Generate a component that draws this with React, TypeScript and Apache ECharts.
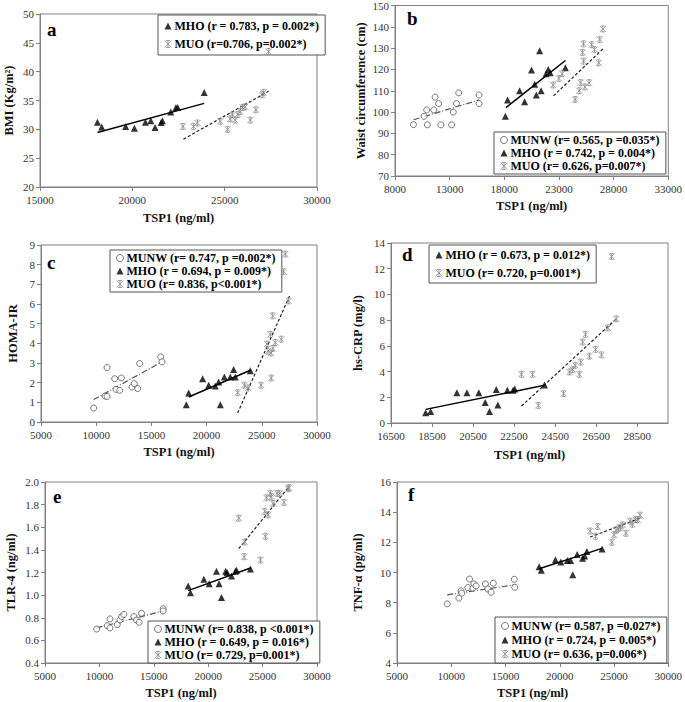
import React, { useEffect, useRef } from 'react';
import * as echarts from 'echarts';

type P = [number, number];

// ---- Panel a : BMI ----
const A_MHO: P[] = [[18110,31.25],[18340,30.4],[19640,30.5],[20110,30.2],[20710,31.25],[21000,31.5],[21230,30.3],[21560,31.2],[21630,31.5],[22080,33.0],[22360,33.8],[22460,33.8],[23890,36.4]];
const A_MHO_FIT: P[] = [[18110,29.46],[23890,34.5]];
const A_MUO: P[] = [[22740,30.5],[23310,30.5],[23530,31.1],[24760,31.4],[25160,30.0],[25300,31.8],[25430,32.5],[25570,31.6],[25720,32.6],[25840,33.1],[25970,33.8],[26110,33.9],[26390,31.6],[26690,33.4],[27020,36.0],[27110,36.4],[27380,43.5]];
const A_MUO_FIT: P[] = [[22770,28.3],[27380,36.6]];

// ---- Panel b : Waist circumference ----
const B_MUNW: P[] = [[9690,94.1],[10660,98],[10900,101],[10960,94],[11550,101],[11670,107],[11990,104],[12200,94],[13180,94],[13330,100],[13620,104],[13830,109],[15690,108],[15690,104]];
const B_MUNW_FIT: P[] = [[9700,96.4],[15700,105.7]];
const B_MHO: P[] = [[18100,98],[18300,105.7],[19400,110],[19860,104.8],[20490,119.7],[20780,113],[20930,108],[21230,128.8],[21370,110],[21820,118],[22020,120],[22200,118.4],[23590,120.8]];
const B_MHO_FIT: P[] = [[18150,102.1],[23590,124.2]];
const B_MUO: P[] = [[22470,112.7],[23000,115.8],[23300,118],[24480,105.9],[24860,110],[25000,113.8],[25250,132],[25160,128],[25250,123.9],[25370,111.8],[25750,113.8],[25990,131.6],[26250,129.3],[26640,123.1],[26730,134],[27020,139]];
const B_MUO_FIT: P[] = [[22500,107.6],[27020,129.6]];

// ---- Panel c : HOMA-IR ----
const C_MUNW: P[] = [[9770,0.71],[10800,1.32],[10980,1.3],[10980,2.77],[11670,2.2],[11790,1.66],[12130,1.61],[12280,2.24],[13240,1.78],[13450,1.95],[13760,1.7],[13940,2.97],[15840,3.31],[15960,3.06]];
const C_MUNW_FIT: P[] = [[9770,1.14],[15960,3.06]];
const C_MHO: P[] = [[18160,0.88],[18380,1.48],[19640,2.2],[20190,1.87],[20790,1.83],[21090,2.04],[21240,0.88],[21610,2.29],[22150,2.29],[22450,2.67],[22600,2.29],[23960,2.6]];
const C_MHO_FIT: P[] = [[18380,1.27],[23960,2.63]];
const C_MUO: P[] = [[22810,1.49],[23420,1.87],[23750,1.73],[24930,1.87],[25470,3.96],[25560,3.6],[25770,4.45],[25830,3.51],[25860,2.24],[26010,3.74],[26220,4.04],[25990,5.4],[26770,4.21],[27130,8.54],[26980,7.64],[27430,6.16]];
const C_MUO_FIT: P[] = [[22810,0.46],[27520,6.42]];

// ---- Panel d : hs-CRP ----
const D_MHO: P[] = [[18190,0.8],[18430,0.9],[19710,2.35],[20200,2.35],[20780,2.35],[21090,1.6],[21300,0.9],[21630,2.6],[21710,1.4],[22170,2.55],[22450,2.55],[22530,2.65],[23980,2.95]];
const D_MHO_FIT: P[] = [[18190,1.06],[23980,2.93]];
const D_MUO: P[] = [[22860,3.79],[23400,3.79],[23680,1.37],[24910,2.28],[25200,3.97],[25350,4.15],[25480,4.49],[25680,3.79],[25750,4.74],[25840,6.3],[25980,6.9],[26170,5.2],[26470,5.73],[26760,5.3],[27070,7.4],[27480,8.1],[27250,12.96]];
const D_MUO_FIT: P[] = [[22860,1.32],[27480,8.1]];

// ---- Panel e : TLR-4 ----
const E_MUNW: P[] = [[9740,0.7],[10720,0.73],[10970,0.79],[10970,0.71],[11640,0.74],[11890,0.78],[12040,0.81],[12250,0.83],[13170,0.81],[13410,0.78],[13660,0.76],[13870,0.84],[15860,0.88],[15860,0.86]];
const E_MUNW_FIT: P[] = [[9740,0.71],[15860,0.86]];
const E_MHO: P[] = [[18160,1.08],[18370,1.02],[19600,1.14],[20090,1.1],[20760,1.21],[21000,1.1],[21220,0.98],[21610,1.21],[21740,1.2],[22140,1.17],[22500,1.21],[22600,1.22],[23880,1.23]];
const E_MHO_FIT: P[] = [[18160,1.04],[23880,1.24]];
const E_MUO: P[] = [[22810,1.68],[23360,1.47],[23300,1.34],[24800,1.31],[25200,1.74],[25260,1.52],[25350,1.86],[25500,1.71],[25710,1.9],[25800,1.87],[25960,1.81],[26330,1.9],[26570,1.9],[26970,1.82],[27340,1.94],[27430,1.95]];
const E_MUO_FIT: P[] = [[22810,1.41],[27430,1.96]];

// ---- Panel f : TNF-alpha ----
const F_MUNW: P[] = [[9630,7.92],[10700,8.3],[10910,8.78],[10970,8.63],[11530,9.0],[11680,9.57],[11990,8.96],[12080,9.24],[12290,9.11],[13150,9.24],[13360,8.91],[13670,8.69],[13880,9.29],[15810,9.55],[15850,9.02]];
const F_MUNW_FIT: P[] = [[9630,8.52],[15810,9.18]];
const F_MHO: P[] = [[18100,10.38],[18300,10.15],[19600,10.85],[20100,10.7],[20700,10.8],[21000,10.8],[21200,9.85],[21600,11.2],[22100,10.95],[22300,11.1],[22500,11.4],[23900,11.55]];
const F_MHO_FIT: P[] = [[18100,10.25],[23900,11.6]];
const F_MUO: P[] = [[22800,12.75],[23300,12.4],[23500,13.05],[24800,12.0],[25000,12.5],[25200,12.8],[25400,12.9],[25600,13.0],[25800,13.15],[26100,12.6],[26500,13.4],[26700,13.2],[27000,13.5],[27200,13.5],[27400,13.8]];
const F_MUO_FIT: P[] = [[22800,12.35],[27400,13.6]];

const FONT = "'Liberation Serif', 'Times New Roman', serif";
const STAR = 'path://M0,0L10,10M10,0L0,10M5,0L5,10M2,0L8,0M2,10L8,10';

type Kind = 'MUNW' | 'MHO' | 'MUO';
interface Group { kind: Kind; label: string; pts: P[]; fit: P[] }
interface Panel {
  letter: string; lx: number; ly: number;
  grid: { left: number; top: number; width: number; height: number };
  x: [number, number, number]; y: [number, number, number];
  yName: string; yGap: number; xGap: number; yDec: number; hideXMax?: boolean;
  legend: { left: number; top: number; itemGap: number; padding: number[] };
  groups: Group[];
}

const panels: Panel[] = [
  { letter: 'a', lx: 52, ly: 30, grid: { left: 40, top: 14, width: 277, height: 173 }, x: [15000, 30000, 5000], y: [20, 50, 5], yName: 'BMI (Kg/m²)', yGap: 25, xGap: 24, yDec: 0,
    legend: { left: 158, top: 15, itemGap: 6, padding: [5, 6, 5, 6] },
    groups: [
      { kind: 'MHO', label: 'MHO (r = 0.783, p = 0.002*)', pts: A_MHO, fit: A_MHO_FIT },
      { kind: 'MUO', label: 'MUO (r=0.706, p=0.002*)', pts: A_MUO, fit: A_MUO_FIT },
    ] },
  { letter: 'b', lx: 412, ly: 19, grid: { left: 395, top: 4, width: 282, height: 172 }, x: [8000, 33000, 5000], y: [70, 150, 10], yName: 'Waist circumference (cm)', yGap: 28, xGap: 23, yDec: 0,
    legend: { left: 494, top: 132, itemGap: 1, padding: [2, 6, 2, 6] },
    groups: [
      { kind: 'MUNW', label: 'MUNW (r= 0.565, p =0.035*)', pts: B_MUNW, fit: B_MUNW_FIT },
      { kind: 'MHO', label: 'MHO (r = 0.742, p = 0.004*)', pts: B_MHO, fit: B_MHO_FIT },
      { kind: 'MUO', label: 'MUO (r= 0.626, p=0.007*)', pts: B_MUO, fit: B_MUO_FIT },
    ] },
  { letter: 'c', lx: 52, ly: 263, grid: { left: 41, top: 245, width: 276, height: 177 }, x: [5000, 30000, 5000], y: [0, 9, 1], yName: 'HOMA-IR', yGap: 22, xGap: 23, yDec: 0,
    legend: { left: 110, top: 250, itemGap: 1, padding: [2, 6, 2, 6] },
    groups: [
      { kind: 'MUNW', label: 'MUNW (r= 0.747, p =0.002*)', pts: C_MUNW, fit: C_MUNW_FIT },
      { kind: 'MHO', label: 'MHO (r = 0.694, p = 0.009*)', pts: C_MHO, fit: C_MHO_FIT },
      { kind: 'MUO', label: 'MUO (r= 0.836, p<0.001*)', pts: C_MUO, fit: C_MUO_FIT },
    ] },
  { letter: 'd', lx: 407, ly: 255, grid: { left: 391, top: 243, width: 277, height: 180 }, x: [16500, 30000, 2000], y: [0, 14, 2], yName: 'hs-CRP (mg/l)', yGap: 27, xGap: 25, yDec: 0, hideXMax: true,
    legend: { left: 429, top: 245, itemGap: 6, padding: [4, 6, 4, 6] },
    groups: [
      { kind: 'MHO', label: 'MHO (r = 0.673, p = 0.012*)', pts: D_MHO, fit: D_MHO_FIT },
      { kind: 'MUO', label: 'MUO (r= 0.720, p=0.001*)', pts: D_MUO, fit: D_MUO_FIT },
    ] },
  { letter: 'e', lx: 58, ly: 497, grid: { left: 45, top: 482, width: 272, height: 181 }, x: [5000, 30000, 5000], y: [0.4, 2.0, 0.2], yName: 'TLR-4 (ng/ml)', yGap: 28, xGap: 23, yDec: 1,
    legend: { left: 148, top: 621, itemGap: 1, padding: [2, 6, 2, 6] },
    groups: [
      { kind: 'MUNW', label: 'MUNW (r= 0.838, p <0.001*)', pts: E_MUNW, fit: E_MUNW_FIT },
      { kind: 'MHO', label: 'MHO (r = 0.649, p = 0.016*)', pts: E_MHO, fit: E_MHO_FIT },
      { kind: 'MUO', label: 'MUO (r= 0.729, p=0.001*)', pts: E_MUO, fit: E_MUO_FIT },
    ] },
  { letter: 'f', lx: 413, ly: 495, grid: { left: 397, top: 482, width: 272, height: 181 }, x: [5000, 30000, 5000], y: [4, 16, 2], yName: 'TNF-α (pg/ml)', yGap: 33, xGap: 23, yDec: 0,
    legend: { left: 495, top: 617, itemGap: 2, padding: [3, 6, 3, 6] },
    groups: [
      { kind: 'MUNW', label: 'MUNW (r= 0.587, p =0.027*)', pts: F_MUNW, fit: F_MUNW_FIT },
      { kind: 'MHO', label: 'MHO (r = 0.724, p = 0.005*)', pts: F_MHO, fit: F_MHO_FIT },
      { kind: 'MUO', label: 'MUO (r= 0.636, p=0.006*)', pts: F_MUO, fit: F_MUO_FIT },
    ] },
];

const markerStyle: Record<Kind, any> = {
  MUNW: { symbol: 'circle', size: 6, item: { color: '#fff', borderColor: '#555', borderWidth: 1 } },
  MHO: { symbol: 'triangle', size: 7, item: { color: '#000' } },
  MUO: { symbol: STAR, size: 6, item: { color: 'transparent', borderColor: '#8a8a8a', borderWidth: 1 } },
};
const fitStyle: Record<Kind, any> = {
  MUNW: { color: '#555', width: 1.2, type: [6, 2, 1, 2] },
  MHO: { color: '#000', width: 1.5, type: 'solid' },
  MUO: { color: '#222', width: 1.2, type: [3, 2] },
};

function buildOption() {
  const grid: any[] = [], xAxis: any[] = [], yAxis: any[] = [], series: any[] = [], legend: any[] = [], graphic: any[] = [];
  panels.forEach((p, i) => {
    grid.push({ ...p.grid, show: true, borderColor: '#808080', borderWidth: 1, backgroundColor: '#fff' });
    const axisCommon = {
      axisLine: { show: true, onZero: false, lineStyle: { color: '#808080', width: 1 } },
      axisTick: { show: true, inside: false, length: 4, lineStyle: { color: '#808080' } },
      splitLine: { show: false },
      axisLabel: { color: '#333', fontFamily: FONT, fontSize: 11 },
      nameTextStyle: { color: '#111', fontFamily: FONT, fontSize: 12.5, fontWeight: 'bold' },
    };
    xAxis.push({
      ...axisCommon, gridIndex: i, type: 'value', min: p.x[0], max: p.x[1], interval: p.x[2],
      name: 'TSP1 (ng/ml)', nameLocation: 'middle', nameGap: p.xGap,
      axisLabel: { ...axisCommon.axisLabel, margin: 7, showMaxLabel: !p.hideXMax, formatter: (v: number) => String(v) },
    });
    yAxis.push({
      ...axisCommon, gridIndex: i, type: 'value', min: p.y[0], max: p.y[1], interval: p.y[2],
      name: p.yName, nameLocation: 'middle', nameGap: p.yGap,
      axisLabel: { ...axisCommon.axisLabel, margin: 6, formatter: (v: number) => v.toFixed(p.yDec) },
    });
    p.groups.forEach((g) => {
      const m = markerStyle[g.kind];
      series.push({
        type: 'line', xAxisIndex: i, yAxisIndex: i, data: g.fit, symbol: 'none', silent: true,
        lineStyle: fitStyle[g.kind], z: 3,
      });
      series.push({
        name: g.label, type: 'scatter', xAxisIndex: i, yAxisIndex: i, data: g.pts,
        symbol: m.symbol, symbolSize: m.size, itemStyle: m.item, z: 4,
      });
    });
    legend.push({
      left: p.legend.left, top: p.legend.top, orient: 'vertical', selectedMode: false,
      backgroundColor: '#fff', borderColor: '#555', borderWidth: 1, padding: p.legend.padding,
      itemGap: p.legend.itemGap, itemWidth: 7, itemHeight: 7,
      textStyle: { fontFamily: FONT, fontSize: 12, fontWeight: 'bold', color: '#000', padding: [0, 0, 0, -2] },
      data: p.groups.map((g) => ({ name: g.label, icon: markerStyle[g.kind].symbol, itemStyle: markerStyle[g.kind].item })),
    });
    graphic.push({
      type: 'text', left: p.lx - 5, top: p.ly - 10,
      style: { text: p.letter, fontFamily: FONT, fontSize: 19, fontWeight: 'bold', fill: '#000' },
    });
  });
  return { animation: false, backgroundColor: '#fff', grid, xAxis, yAxis, series, legend, graphic };
}

export default function App() {
  const ref = useRef<HTMLDivElement>(null);
  useEffect(() => {
    document.body.style.margin = '0';
    const chart = echarts.init(ref.current!, undefined, { renderer: 'svg' });
    chart.setOption(buildOption());
    return () => chart.dispose();
  }, []);
  return <div ref={ref} style={{ width: 685, height: 702 }} />;
}
